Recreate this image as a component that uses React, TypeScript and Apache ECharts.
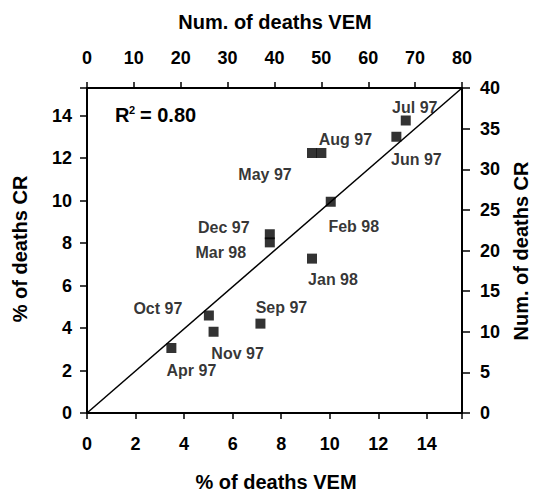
import React, { useEffect, useRef } from "react";
import * as echarts from "echarts";

// Data: death counts per month
const months = ["Apr 97", "May 97", "Jun 97", "Jul 97", "Aug 97", "Sep 97", "Oct 97", "Nov 97", "Dec 97", "Jan 98", "Feb 98", "Mar 98"];
const vemDeaths = [18, 48, 66, 68, 50, 37, 26, 27, 39, 48, 52, 39];
const crDeaths = [8, 32, 34, 36, 32, 11, 12, 10, 22, 19, 26, 21];
const r2Text = "0.80";

// Layout-only: label offsets (px) relative to each marker
const labelOffsets: number[][] = [
  [20, 22], [-47, 21], [20, 23], [9, -13], [24, -14], [21, -16],
  [-51, -7], [24, 22], [-46, -7], [21, 21], [23, 25], [-49, 10],
];

const FONT = '"Liberation Sans", Arial, Helvetica, sans-serif';

export default function App() {
  const ref = useRef<HTMLDivElement>(null);
  useEffect(() => {
    if (!ref.current) return;
    const chart = echarts.init(ref.current, undefined, { renderer: "svg" });
    const axisCommon = (len: number, margin: number) => ({
      type: "value" as const,
      axisLine: { show: true, onZero: false, lineStyle: { color: "#000", width: 2 } },
      axisTick: { show: true, inside: false, length: len, lineStyle: { color: "#000", width: 1.5 } },
      axisLabel: {
        margin,
        fontSize: 18,
        fontWeight: "bold" as const,
        color: "#000",
        fontFamily: FONT,
        showMaxLabel: true,
        showMinLabel: true,
        formatter: (v: number) => (Math.abs(v - Math.round(v)) < 1e-9 ? String(Math.round(v)) : ""),
      },
      splitLine: { show: false },
    });
    const option: any = {
      animation: false,
      backgroundColor: "#fff",
      grid: { left: 87, right: 81, top: 88, bottom: 80, containLabel: false },
      xAxis: [
        { ...axisCommon(6, 22), position: "bottom", min: 0, max: 15.45, interval: 2 },
        { ...axisCommon(6, 21), position: "top", min: 0, max: 80, interval: 10 },
      ],
      yAxis: [
        { ...axisCommon(7, 15), position: "left", min: 0, max: 15.3, interval: 2 },
        { ...axisCommon(8, 18), position: "right", min: 0, max: 40, interval: 5 },
      ],
      series: [
        {
          type: "line",
          xAxisIndex: 1,
          yAxisIndex: 1,
          data: [[0, 0], [80, 40]],
          symbol: "none",
          lineStyle: { color: "#000", width: 1.5 },
          z: 1,
          silent: true,
        },
        {
          type: "scatter",
          xAxisIndex: 1,
          yAxisIndex: 1,
          symbol: "rect",
          symbolSize: 10,
          itemStyle: { color: "#000" },
          z: 3,
          data: months.map((m, i) => ({
            value: [vemDeaths[i], crDeaths[i]],
            label: {
              show: true,
              position: "inside",
              offset: labelOffsets[i],
              formatter: m,
              fontSize: 16,
              fontWeight: "bold",
              color: "#000",
              fontFamily: FONT,
            },
          })),
        },
      ],
      graphic: [
        { type: "text", x: 275, y: 22, style: { text: "Num. of deaths VEM", fontSize: 20, fontWeight: "bold", fontFamily: FONT, fill: "#000", align: "center", verticalAlign: "middle" } },
        { type: "text", x: 276, y: 482, style: { text: "% of deaths VEM", fontSize: 20, fontWeight: "bold", fontFamily: FONT, fill: "#000", align: "center", verticalAlign: "middle" } },
        { type: "text", x: 20, y: 249, rotation: Math.PI / 2, style: { text: "% of deaths CR", fontSize: 20, fontWeight: "bold", fontFamily: FONT, fill: "#000", align: "center", verticalAlign: "middle" } },
        { type: "text", x: 521, y: 251, rotation: Math.PI / 2, style: { text: "Num. of deaths CR", fontSize: 20, fontWeight: "bold", fontFamily: FONT, fill: "#000", align: "center", verticalAlign: "middle" } },
        { type: "text", x: 115, y: 115, style: { text: "R", fontSize: 20, fontWeight: "bold", fontFamily: FONT, fill: "#000", align: "left", verticalAlign: "middle" } },
        { type: "text", x: 129, y: 110, style: { text: "2", fontSize: 11, fontWeight: "bold", fontFamily: FONT, fill: "#000", align: "left", verticalAlign: "middle" } },
        { type: "text", x: 140, y: 115, style: { text: "= " + r2Text, fontSize: 20, fontWeight: "bold", fontFamily: FONT, fill: "#000", align: "left", verticalAlign: "middle" } },
      ],
    };
    chart.setOption(option);
    return () => chart.dispose();
  }, []);
  return (
    <div
      ref={ref}
      style={{ position: "absolute", left: 0, top: 0, width: 543, height: 493, background: "#fff" }}
    />
  );
}
